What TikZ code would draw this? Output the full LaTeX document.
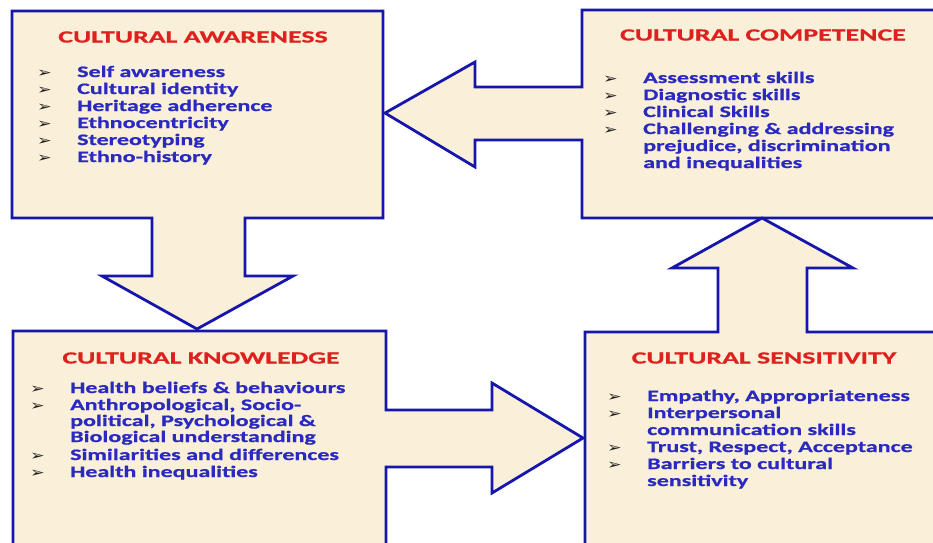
\documentclass[tikz,border=0pt]{standalone}
\usepackage{graphicx}
\usepackage{fontspec}
\newfontfamily\calfont{Carlito}[FakeStretch=1.5,FakeBold=0.8]
\newfontfamily\headfam{Carlito}[FakeStretch=1.64,FakeBold=0.8]
\newfontfamily\dingfont{DejaVu Sans}
\definecolor{parch}{RGB}{250,239,216}
\definecolor{edge}{RGB}{22,22,172}
\definecolor{headred}{RGB}{222,32,30}
\definecolor{itemblue}{RGB}{42,42,192}
\definecolor{bulgrey}{RGB}{30,30,30}
\newcommand\bul{\llap{\makebox[40pt][l]{\color{bulgrey}\dingfont\fontsize{14}{14}\selectfont\scalebox{1.25}[1]{➢}}}}
\tikzset{
  box/.style={fill=parch, draw=edge, line width=2.8pt, line join=miter},
  head/.style={anchor=base, inner sep=0pt, text=headred, font=\headfam\bfseries\fontsize{17}{17}\selectfont},
  item/.style={anchor=base west, inner sep=0pt, text=itemblue, font=\calfont\bfseries\fontsize{16}{17}\selectfont},
}
\begin{document}
\begin{tikzpicture}[x=1pt,y=-1pt]
\useasboundingbox (0,0) rectangle (933,542);
\fill[white] (0,0) rectangle (933,542);
\clip (0,0) rectangle (933,542);

% boxes, each joined to the block arrow that leaves it
\draw[box] (12,11) -- (383,11) -- (383,218) -- (245,218) -- (245,276) -- (293,276)
  -- (197,329) -- (102,276) -- (152,276) -- (152,218) -- (12,218) -- cycle;
\draw[box] (582,10) -- (960,10) -- (960,218) -- (582,218) -- (582,140) -- (475,140)
  -- (475,167) -- (385,113) -- (475,62) -- (475,87) -- (582,87) -- cycle;
\draw[box] (13,331) -- (386,331) -- (386,410) -- (492,410) -- (492,383) -- (583,438)
  -- (492,493) -- (492,467) -- (386,467) -- (386,560) -- (13,560) -- cycle;
\draw[box] (585,332) -- (718,332) -- (718,268) -- (672,268) -- (762,218) -- (853,268)
  -- (807,268) -- (807,332) -- (960,332) -- (960,560) -- (585,560) -- cycle;

% cultural awareness
\node[head] (awh) at (193,42.5) {CULTURAL AWARENESS};
\node[item] (aw1) at (77,77) {\bul Self awareness};
\node[item] (aw2) at (77,94) {\bul Cultural identity};
\node[item] (aw3) at (77,111) {\bul Heritage adherence};
\node[item] (aw4) at (77,128) {\bul Ethnocentricity};
\node[item] (aw5) at (77,145) {\bul Stereotyping};
\node[item] (aw6) at (77,162) {\bul Ethno-history};

% cultural competence
\node[head] (coh) at (763,40.5) {CULTURAL COMPETENCE};
\node[item] (co1) at (643,83) {\bul Assessment skills};
\node[item] (co2) at (643,100) {\bul Diagnostic skills};
\node[item] (co3) at (643,117) {\bul Clinical Skills};
\node[item] (co4) at (643,134) {\bul Challenging \& addressing};
\node[item] (co5) at (643,151) {prejudice, discrimination};
\node[item] (co6) at (643,168) {and inequalities};

% cultural knowledge
\node[head] (knh) at (201,363.5) {CULTURAL KNOWLEDGE};
\node[item] (kn1) at (70,393) {\bul Health beliefs \& behaviours};
\node[item] (kn2) at (70,410) {\bul Anthropological, Socio-};
\node[item] (kn3) at (70,426) {political, Psychological \&};
\node[item] (kn4) at (70,442) {Biological understanding};
\node[item] (kn5) at (70,460) {\bul Similarities and differences};
\node[item] (kn6) at (70,477) {\bul Health inequalities};

% cultural sensitivity
\node[head] (seh) at (764,363.5) {CULTURAL SENSITIVITY};
\node[item] (se1) at (647,401) {\bul Empathy, Appropriateness};
\node[item] (se2) at (647,418) {\bul Interpersonal};
\node[item] (se3) at (647,435) {communication skills};
\node[item] (se4) at (647,452) {\bul Trust, Respect, Acceptance};
\node[item] (se5) at (647,469) {\bul Barriers to cultural};
\node[item] (se6) at (647,486) {sensitivity};
\end{tikzpicture}
\end{document}
